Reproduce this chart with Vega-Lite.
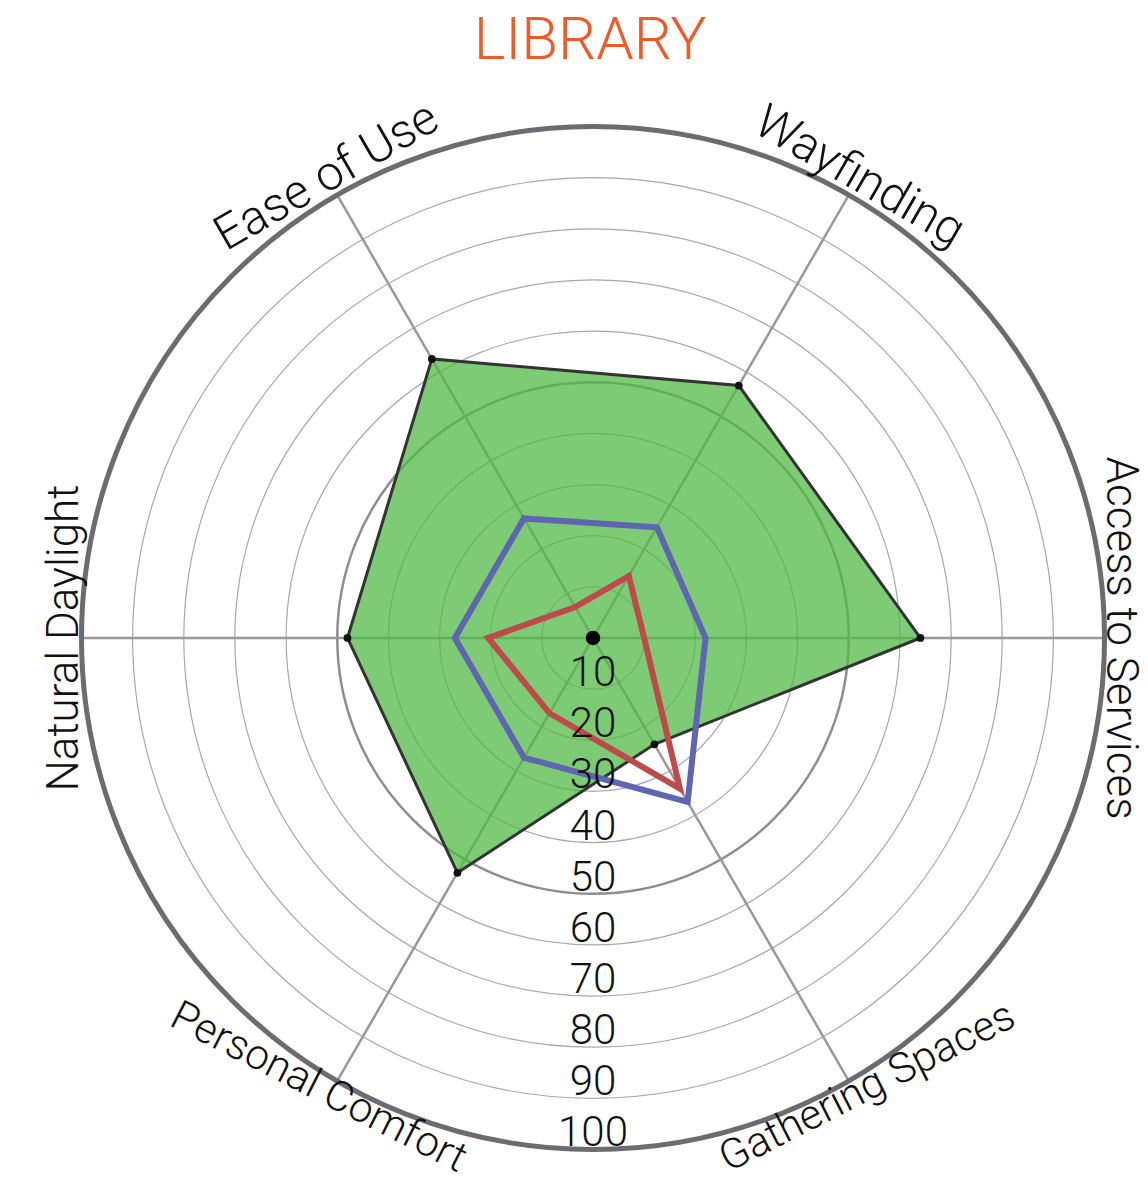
{
  "$schema": "https://vega.github.io/schema/vega-lite/v6.json",
  "width": 1148,
  "height": 1103,
  "autosize": {"type": "none"},
  "padding": {"top": 80, "left": 0, "right": 0, "bottom": 0},
  "background": "white",
  "config": {"view": {"stroke": null}, "font": "Roboto"},
  "title": {"text": "LIBRARY", "font": "Roboto", "fontSize": 60, "fontWeight": 300, "color": "#f05a28", "anchor": "middle", "frame": "group", "offset": 8, "dx": 16},
  "datasets": {
    "scores": [
      {"series": "Series 1", "axis": "Access to Services", "k": 0, "value": 64},
      {"series": "Series 1", "axis": "Wayfinding", "k": 1, "value": 57},
      {"series": "Series 1", "axis": "Ease of Use", "k": 2, "value": 63},
      {"series": "Series 1", "axis": "Natural Daylight", "k": 3, "value": 48},
      {"series": "Series 1", "axis": "Personal Comfort", "k": 4, "value": 53},
      {"series": "Series 1", "axis": "Gathering Spaces", "k": 5, "value": 24},
      {"series": "Series 2", "axis": "Access to Services", "k": 0, "value": 22},
      {"series": "Series 2", "axis": "Wayfinding", "k": 1, "value": 25},
      {"series": "Series 2", "axis": "Ease of Use", "k": 2, "value": 27},
      {"series": "Series 2", "axis": "Natural Daylight", "k": 3, "value": 27},
      {"series": "Series 2", "axis": "Personal Comfort", "k": 4, "value": 27},
      {"series": "Series 2", "axis": "Gathering Spaces", "k": 5, "value": 37},
      {"series": "Series 3", "axis": "Access to Services", "k": 0, "value": 10},
      {"series": "Series 3", "axis": "Wayfinding", "k": 1, "value": 14},
      {"series": "Series 3", "axis": "Ease of Use", "k": 2, "value": 7},
      {"series": "Series 3", "axis": "Natural Daylight", "k": 3, "value": 20.5},
      {"series": "Series 3", "axis": "Personal Comfort", "k": 4, "value": 17},
      {"series": "Series 3", "axis": "Gathering Spaces", "k": 5, "value": 34}
    ],
    "axes": [
      {"axis": "Access to Services", "k": 0},
      {"axis": "Wayfinding", "k": 1},
      {"axis": "Ease of Use", "k": 2},
      {"axis": "Natural Daylight", "k": 3},
      {"axis": "Personal Comfort", "k": 4},
      {"axis": "Gathering Spaces", "k": 5}
    ],
    "rings": [
      {"level": 10}, {"level": 20}, {"level": 30}, {"level": 40}, {"level": 50},
      {"level": 60}, {"level": 70}, {"level": 80}, {"level": 90}, {"level": 100}
    ]
  },
  "layer": [
    {
      "data": {"name": "rings"},
      "transform": [{"filter": "datum.level % 50 != 0"}, {"calculate": "0", "as": "cx"}],
      "mark": {"type": "arc", "filled": false, "stroke": "#a8a8a8", "strokeWidth": 1.2, "theta": 0, "theta2": 6.2832},
      "encoding": {
        "x": {"field": "cx", "type": "quantitative", "scale": {"domain": [-115.93, 108.5], "nice": false, "zero": false}, "axis": null},
        "y": {"field": "cx", "type": "quantitative", "scale": {"domain": [-106.55, 109.09], "nice": false, "zero": false}, "axis": null},
        "radius": {"field": "level", "type": "quantitative", "stack": null, "scale": {"type": "linear", "domain": [0, 100], "range": [0, 511.5], "nice": false, "zero": true}}
      }
    },
    {
      "data": {"name": "rings"},
      "transform": [{"filter": "datum.level == 50"}, {"calculate": "0", "as": "cx"}],
      "mark": {"type": "arc", "filled": false, "stroke": "#8e8e8e", "strokeWidth": 2.5, "theta": 0, "theta2": 6.2832},
      "encoding": {
        "x": {"field": "cx", "type": "quantitative", "scale": {"domain": [-115.93, 108.5], "nice": false, "zero": false}, "axis": null},
        "y": {"field": "cx", "type": "quantitative", "scale": {"domain": [-106.55, 109.09], "nice": false, "zero": false}, "axis": null},
        "radius": {"field": "level", "type": "quantitative", "stack": null, "scale": {"type": "linear", "domain": [0, 100], "range": [0, 511.5], "nice": false, "zero": true}}
      }
    },
    {
      "data": {"name": "axes"},
      "transform": [
        {"calculate": "0", "as": "ox"},
        {"calculate": "100 * cos(datum.k * PI / 3)", "as": "sx"},
        {"calculate": "100 * sin(datum.k * PI / 3)", "as": "sy"}
      ],
      "mark": {"type": "rule", "stroke": "#999999", "strokeWidth": 2.5},
      "encoding": {
        "x": {"field": "ox", "type": "quantitative", "scale": {"domain": [-115.93, 108.5], "nice": false, "zero": false}, "axis": null},
        "y": {"field": "ox", "type": "quantitative", "scale": {"domain": [-106.55, 109.09], "nice": false, "zero": false}, "axis": null},
        "x2": {"field": "sx"},
        "y2": {"field": "sy"}
      }
    },
    {
      "data": {"name": "scores"},
      "transform": [
        {"filter": "datum.series == 'Series 1'"},
        {"calculate": "datum.value * cos(datum.k * PI / 3)", "as": "x"},
        {"calculate": "datum.value * sin(datum.k * PI / 3)", "as": "y"}
      ],
      "mark": {"type": "line", "interpolate": "linear-closed", "fill": "#52b946", "fillOpacity": 0.75, "stroke": "#333333", "strokeWidth": 3, "strokeJoin": "miter"},
      "encoding": {
        "x": {"field": "x", "type": "quantitative", "scale": {"domain": [-115.93, 108.5], "nice": false, "zero": false}, "axis": null},
        "y": {"field": "y", "type": "quantitative", "scale": {"domain": [-106.55, 109.09], "nice": false, "zero": false}, "axis": null},
        "order": {"field": "k", "type": "quantitative"}
      }
    },
    {
      "data": {"name": "scores"},
      "transform": [
        {"filter": "datum.series == 'Series 1'"},
        {"calculate": "datum.value * cos(datum.k * PI / 3)", "as": "x"},
        {"calculate": "datum.value * sin(datum.k * PI / 3)", "as": "y"}
      ],
      "mark": {"type": "point", "filled": true, "color": "#111111", "size": 60, "opacity": 1},
      "encoding": {
        "x": {"field": "x", "type": "quantitative", "scale": {"domain": [-115.93, 108.5], "nice": false, "zero": false}, "axis": null},
        "y": {"field": "y", "type": "quantitative", "scale": {"domain": [-106.55, 109.09], "nice": false, "zero": false}, "axis": null}
      }
    },
    {
      "data": {"name": "scores"},
      "transform": [
        {"filter": "datum.series == 'Series 2'"},
        {"calculate": "datum.value * cos(datum.k * PI / 3)", "as": "x"},
        {"calculate": "datum.value * sin(datum.k * PI / 3)", "as": "y"}
      ],
      "mark": {"type": "line", "interpolate": "linear-closed", "stroke": "#5f65b0", "strokeWidth": 6, "strokeJoin": "miter"},
      "encoding": {
        "x": {"field": "x", "type": "quantitative", "scale": {"domain": [-115.93, 108.5], "nice": false, "zero": false}, "axis": null},
        "y": {"field": "y", "type": "quantitative", "scale": {"domain": [-106.55, 109.09], "nice": false, "zero": false}, "axis": null},
        "order": {"field": "k", "type": "quantitative"}
      }
    },
    {
      "data": {"name": "scores"},
      "transform": [
        {"filter": "datum.series == 'Series 3'"},
        {"calculate": "datum.value * cos(datum.k * PI / 3)", "as": "x"},
        {"calculate": "datum.value * sin(datum.k * PI / 3)", "as": "y"}
      ],
      "mark": {"type": "line", "interpolate": "linear-closed", "stroke": "#bf4a4b", "strokeWidth": 6, "strokeJoin": "miter"},
      "encoding": {
        "x": {"field": "x", "type": "quantitative", "scale": {"domain": [-115.93, 108.5], "nice": false, "zero": false}, "axis": null},
        "y": {"field": "y", "type": "quantitative", "scale": {"domain": [-106.55, 109.09], "nice": false, "zero": false}, "axis": null},
        "order": {"field": "k", "type": "quantitative"}
      }
    },
    {
      "data": {"name": "rings"},
      "transform": [{"filter": "datum.level == 100"}, {"calculate": "0", "as": "cx"}],
      "mark": {"type": "arc", "filled": false, "stroke": "#6b6b70", "strokeWidth": 5, "theta": 0, "theta2": 6.2832},
      "encoding": {
        "x": {"field": "cx", "type": "quantitative", "scale": {"domain": [-115.93, 108.5], "nice": false, "zero": false}, "axis": null},
        "y": {"field": "cx", "type": "quantitative", "scale": {"domain": [-106.55, 109.09], "nice": false, "zero": false}, "axis": null},
        "radius": {"field": "level", "type": "quantitative", "stack": null, "scale": {"type": "linear", "domain": [0, 100], "range": [0, 511.5], "nice": false, "zero": true}}
      }
    },
    {
      "data": {"name": "rings"},
      "transform": [{"filter": "datum.level == 100"}, {"calculate": "0", "as": "cx"}],
      "mark": {"type": "point", "filled": true, "color": "#000000", "size": 210, "opacity": 1},
      "encoding": {
        "x": {"field": "cx", "type": "quantitative", "scale": {"domain": [-115.93, 108.5], "nice": false, "zero": false}, "axis": null},
        "y": {"field": "cx", "type": "quantitative", "scale": {"domain": [-106.55, 109.09], "nice": false, "zero": false}, "axis": null}
      }
    },
    {
      "data": {"name": "rings"},
      "transform": [{"calculate": "-datum.level", "as": "ty"}, {"calculate": "0", "as": "cx"}],
      "mark": {"type": "text", "font": "Roboto", "fontSize": 42, "fontWeight": 300, "color": "#111111", "align": "center", "baseline": "alphabetic", "dy": -3},
      "encoding": {
        "x": {"field": "cx", "type": "quantitative", "scale": {"domain": [-115.93, 108.5], "nice": false, "zero": false}, "axis": null},
        "y": {"field": "ty", "type": "quantitative", "scale": {"domain": [-106.55, 109.09], "nice": false, "zero": false}, "axis": null},
        "text": {"field": "level", "type": "nominal"}
      }
    },
    {
      "data": {"name": "axes"},
      "transform": [
        {"filter": "datum.k == 0"},
        {"calculate": "100.5 * cos(datum.k * PI / 3)", "as": "lx"},
        {"calculate": "100.5 * sin(datum.k * PI / 3)", "as": "ly"}
      ],
      "mark": {"type": "text", "font": "Roboto", "fontSize": 44, "fontWeight": 300, "color": "#111111", "align": "center", "baseline": "alphabetic", "angle": 90},
      "encoding": {
        "x": {"field": "lx", "type": "quantitative", "scale": {"domain": [-115.93, 108.5], "nice": false, "zero": false}, "axis": null},
        "y": {"field": "ly", "type": "quantitative", "scale": {"domain": [-106.55, 109.09], "nice": false, "zero": false}, "axis": null},
        "text": {"field": "axis", "type": "nominal"}
      }
    },
    {
      "data": {"name": "axes"},
      "transform": [
        {"filter": "datum.k == 3"},
        {"calculate": "100.6 * cos(datum.k * PI / 3)", "as": "lx"},
        {"calculate": "100.6 * sin(datum.k * PI / 3)", "as": "ly"}
      ],
      "mark": {"type": "text", "font": "Roboto", "fontSize": 44, "fontWeight": 300, "color": "#111111", "align": "center", "baseline": "alphabetic", "angle": 270},
      "encoding": {
        "x": {"field": "lx", "type": "quantitative", "scale": {"domain": [-115.93, 108.5], "nice": false, "zero": false}, "axis": null},
        "y": {"field": "ly", "type": "quantitative", "scale": {"domain": [-106.55, 109.09], "nice": false, "zero": false}, "axis": null},
        "text": {"field": "axis", "type": "nominal"}
      }
    },
    {
      "data": {"name": "axes"},
      "transform": [
        {"filter": "datum.k == 1"},
        {"calculate": "101.3 * cos(datum.k * PI / 3)", "as": "lx"},
        {"calculate": "101.3 * sin(datum.k * PI / 3)", "as": "ly"}
      ],
      "mark": {"type": "text", "font": "Roboto", "fontSize": 48, "fontWeight": 300, "color": "#111111", "align": "center", "baseline": "alphabetic", "angle": 30},
      "encoding": {
        "x": {"field": "lx", "type": "quantitative", "scale": {"domain": [-115.93, 108.5], "nice": false, "zero": false}, "axis": null},
        "y": {"field": "ly", "type": "quantitative", "scale": {"domain": [-106.55, 109.09], "nice": false, "zero": false}, "axis": null},
        "text": {"field": "axis", "type": "nominal"}
      }
    },
    {
      "data": {"name": "axes"},
      "transform": [
        {"filter": "datum.k == 2"},
        {"calculate": "101.3 * cos(datum.k * PI / 3)", "as": "lx"},
        {"calculate": "101.3 * sin(datum.k * PI / 3)", "as": "ly"}
      ],
      "mark": {"type": "text", "font": "Roboto", "fontSize": 48, "fontWeight": 300, "color": "#111111", "align": "center", "baseline": "alphabetic", "angle": 330},
      "encoding": {
        "x": {"field": "lx", "type": "quantitative", "scale": {"domain": [-115.93, 108.5], "nice": false, "zero": false}, "axis": null},
        "y": {"field": "ly", "type": "quantitative", "scale": {"domain": [-106.55, 109.09], "nice": false, "zero": false}, "axis": null},
        "text": {"field": "axis", "type": "nominal"}
      }
    },
    {
      "data": {"name": "axes"},
      "transform": [
        {"filter": "datum.k == 4"},
        {"calculate": "98.8 * cos(datum.k * PI / 3)", "as": "lx"},
        {"calculate": "98.8 * sin(datum.k * PI / 3)", "as": "ly"}
      ],
      "mark": {"type": "text", "font": "Roboto", "fontSize": 42, "fontWeight": 300, "color": "#111111", "align": "center", "baseline": "top", "angle": 27, "dx": -14},
      "encoding": {
        "x": {"field": "lx", "type": "quantitative", "scale": {"domain": [-115.93, 108.5], "nice": false, "zero": false}, "axis": null},
        "y": {"field": "ly", "type": "quantitative", "scale": {"domain": [-106.55, 109.09], "nice": false, "zero": false}, "axis": null},
        "text": {"field": "axis", "type": "nominal"}
      }
    },
    {
      "data": {"name": "axes"},
      "transform": [
        {"filter": "datum.k == 5"},
        {"calculate": "98.8 * cos(datum.k * PI / 3)", "as": "lx"},
        {"calculate": "98.8 * sin(datum.k * PI / 3)", "as": "ly"}
      ],
      "mark": {"type": "text", "font": "Roboto", "fontSize": 42, "fontWeight": 300, "color": "#111111", "align": "center", "baseline": "top", "angle": 333, "dx": 14},
      "encoding": {
        "x": {"field": "lx", "type": "quantitative", "scale": {"domain": [-115.93, 108.5], "nice": false, "zero": false}, "axis": null},
        "y": {"field": "ly", "type": "quantitative", "scale": {"domain": [-106.55, 109.09], "nice": false, "zero": false}, "axis": null},
        "text": {"field": "axis", "type": "nominal"}
      }
    }
  ]
}
